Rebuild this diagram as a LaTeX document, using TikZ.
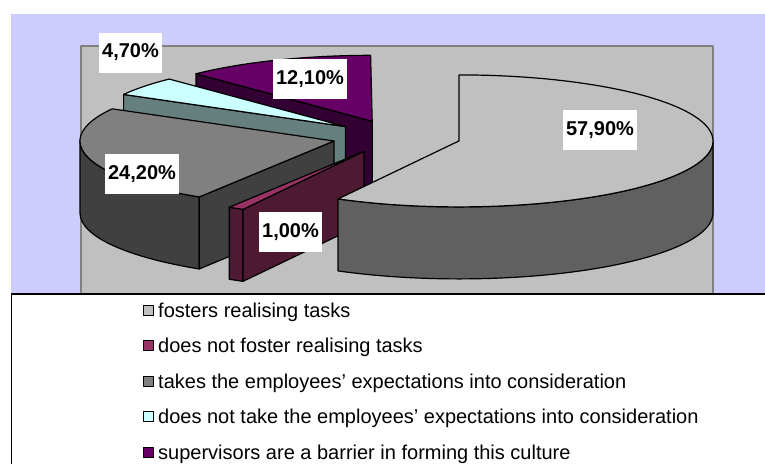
\documentclass[tikz,border=0pt]{standalone}
\usepackage{fontspec}
\setmainfont{Liberation Sans}
\def\RX{254}\def\RY{66}\def\H{72}
\newcommand\pwall[3]{%
  \filldraw[edge, fill=#3] ({\RX*cos(#1)},{\RY*sin(#1)}) arc[start angle=#1, end angle=#2, x radius=\RX pt, y radius=\RY pt] -- ++(0,-\H) arc[start angle=#2, end angle=#1, x radius=\RX pt, y radius=\RY pt] -- cycle;}
\newcommand\pface[2]{%
  \filldraw[edge, fill=#2] (0,0) -- ({\RX*cos(#1)},{\RY*sin(#1)}) -- ++(0,-\H) -- (0,-\H) -- cycle;}
\newcommand\ptop[3]{%
  \filldraw[edge, fill=#3] (0,0) -- ({\RX*cos(#1)},{\RY*sin(#1)}) arc[start angle=#1, end angle=#2, x radius=\RX pt, y radius=\RY pt] -- cycle;}
\definecolor{lav}{HTML}{CCCCFF}
\definecolor{plotgray}{HTML}{C0C0C0}
\definecolor{plotborder}{HTML}{808080}
\definecolor{mainside}{HTML}{606060}
\definecolor{gtop}{HTML}{808080}
\definecolor{gside}{HTML}{404040}
\definecolor{mtop}{HTML}{993366}
\definecolor{mside}{HTML}{4D1933}
\definecolor{ctop}{HTML}{CCFFFF}
\definecolor{cside}{HTML}{668080}
\definecolor{ptop}{HTML}{660066}
\definecolor{pside}{HTML}{330033}
\begin{document}
\begin{tikzpicture}[x=1pt,y=1pt,line join=round,
  edge/.style={draw=black, line width=1.2pt},
  lbl/.style={fill=white, font=\fontsize{20}{24}\selectfont\bfseries, minimum height=40pt, inner xsep=3.5pt, inner ysep=0pt},
  legtxt/.style={anchor=base west, font=\fontsize{20}{24}\selectfont, inner sep=0pt},
  legsq/.style={draw=black, line width=0.9pt, minimum size=10pt, inner sep=0pt}]
\useasboundingbox (0,0) rectangle (765,-463);
\clip (0,0) rectangle (765,-463);
\fill[white] (0,0) rectangle (765,-463);
% chart area
\fill[lav] (11,-14) rectangle (770,-294);
\filldraw[fill=plotgray, draw=plotborder, line width=1.2pt] (81,-46) rectangle (713,-300);
% slice 12.1
\begin{scope}[shift={(372.2,-121.3)}]
  \pface{133.92}{pside}
  \ptop{90.36}{133.92}{ptop}
\end{scope}
% slice 4.7
\begin{scope}[shift={(345.4,-126.6)}]
  \pface{150.84}{cside}
  \ptop{133.92}{150.84}{ctop}
\end{scope}
% slice 24.2
\begin{scope}[shift={(334.0,-141.0)}]
  \pwall{180}{237.96}{gside}
  \pface{237.96}{gside}
  \ptop{150.84}{237.96}{gtop}
\end{scope}
% slice 1.0
\begin{scope}[shift={(364.0,-151.3)}]
  \pwall{237.96}{241.56}{mside}
  \pface{241.56}{mside}
  \ptop{237.96}{241.56}{mtop}
\end{scope}
% slice 57.9
\begin{scope}[shift={(459.0,-140.9)}]
  \pwall{-118.44}{0}{mainside}
  \ptop{-118.44}{90}{plotgray}
\end{scope}
% data labels
\node[lbl] (l47) at (130.5,-52.5) {4,70\%};
\node[lbl] (l121) at (310,-79) {12,10\%};
\node[lbl] (l242) at (142,-174) {24,20\%};
\node[lbl] (l10) at (290.5,-232) {1,00\%};
\node[lbl] (l579) at (600,-130) {57,90\%};
% legend
\draw[black, line width=1.5pt, fill=white] (11.5,-294) rectangle (780,-480);
\node[legsq, fill=plotgray] (s1) at (148,-310) {};
\node[legtxt] (t1) at (158,-317) {fosters realising tasks};
\node[legsq, fill=mtop] (s2) at (148,-345.5) {};
\node[legtxt] (t2) at (158,-352.5) {does not foster realising tasks};
\node[legsq, fill=gtop] (s3) at (148,-381) {};
\node[legtxt] (t3) at (158,-388) {takes the employees’ expectations into consideration};
\node[legsq, fill=ctop] (s4) at (148,-416.5) {};
\node[legtxt] (t4) at (158,-423.5) {does not take the employees’ expectations into consideration};
\node[legsq, fill=ptop] (s5) at (148,-452) {};
\node[legtxt] (t5) at (158,-459) {supervisors are a barrier in forming this culture};
\end{tikzpicture}
\end{document}
